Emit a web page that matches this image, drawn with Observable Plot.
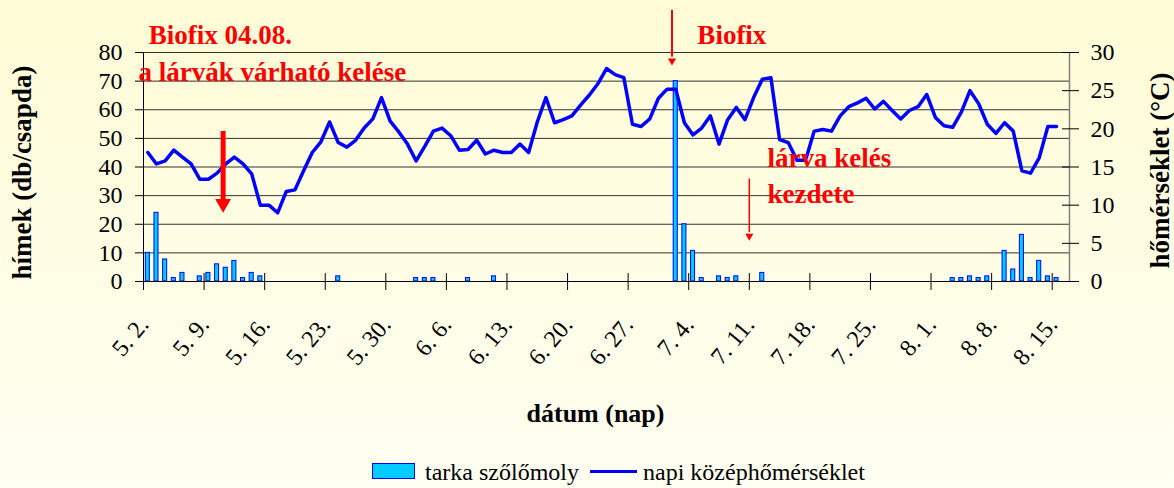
<!DOCTYPE html>
<html><head><meta charset="utf-8">
<script src="https://cdn.jsdelivr.net/npm/d3@7"></script>
<script src="https://cdn.jsdelivr.net/npm/@observablehq/plot@0.6"></script>
<style>
html,body{margin:0;padding:0;}
body{width:1174px;height:488px;overflow:hidden;background:linear-gradient(#FFFCD6,#FFFFF2);font-family:'Liberation Serif',serif;}
#chart svg{display:block;}
#legend{position:relative;width:1174px;height:43px;}
#legend .sw{position:absolute;left:372px;top:18px;width:41px;height:14px;background:#00CCFF;border:1px solid #0000FF;}
#legend .ln{position:absolute;left:590px;top:25px;width:47px;height:3px;background:#0000FF;}
#legend .tx{position:absolute;top:15px;font-family:'Liberation Serif',serif;font-size:24px;line-height:24px;color:#000;white-space:nowrap;}
</style></head>
<body>
<div id="chart"></div>
<div id="legend"><div class="sw"></div><span class="tx" style="left:425px">tarka szőlőmoly</span><div class="ln"></div><span class="tx" style="left:643px">napi középhőmérséklet</span></div>
<script>
// daily mean temperature (°C), one value per day from 5.2. to 8.15.
const tempC = [
16.9,15.4,15.8,17.2,16.3,15.4,13.4,13.4,14.2,15.4,
16.3,15.4,14.1,10.0,10.0,9.0,11.8,12.0,14.5,16.9,
18.3,20.9,18.2,17.6,18.5,20.1,21.3,24.1,21.0,19.6,
18.0,15.8,17.7,19.7,20.1,19.1,17.2,17.3,18.5,16.7,
17.2,16.9,16.9,18.0,16.9,20.9,24.1,20.8,21.2,21.7,
23.1,24.4,25.9,27.9,27.1,26.7,20.6,20.3,21.3,24.0,
25.2,25.2,20.8,19.2,20.1,21.7,18.0,21.2,22.8,21.2,
24.1,26.5,26.7,18.6,18.2,15.9,15.9,19.7,19.9,19.7,
21.7,22.9,23.4,24.0,22.6,23.6,22.4,21.3,22.4,22.9,
24.5,21.5,20.4,20.2,22.2,25.0,23.3,20.6,19.4,20.8,
19.7,14.5,14.2,16.2,20.3,20.3
];
// trap catches (males / trap): day index (0 = 5.2.) and count
const trapDay = [0,1,2,3,4,6,7,8,9,10,11,12,13,22,31,32,33,37,40,61,62,63,64,66,67,68,71,93,94,95,96,97,99,100,101,102,103,104,105];
const trapCount = [10,24,7.7,1.2,3,1.8,3,6,4.8,7.2,1.2,3,1.8,1.8,1.2,1.2,1.2,1.2,1.8,70,20,10.7,1.2,1.8,1.2,1.8,3,1.2,1.2,1.8,1.2,1.8,10.7,4.2,16.3,1.2,7.2,1.8,1.2];
const dayCount = 107; // 5.2. .. 8.16.
const tickDays = [0,7,14,21,28,35,42,49,56,63,70,77,84,91,98,105];
const tickLabels = ["5. 2.","5. 9.","5. 16.","5. 23.","5. 30.","6. 6.","6. 13.","6. 20.","6. 27.","7. 4.","7. 11.","7. 18.","7. 25.","8. 1.","8. 8.","8. 15."];
const countTicks = [0,10,20,30,40,50,60,70,80];
const tempTicks = [0,5,10,15,20,25,30];
const countMax = 80, tempMax = 30;
const toY = c => c * countMax / tempMax;

// annotations in data coordinates (x: day index, y: count axis)
const notes = [
  {x: 0.6, y: 83.1, text: "Biofix 04.08."},
  {x: -0.58, y: 70, text: "a lárvák várható kelése"},
  {x: 64.0, y: 83.1, text: "Biofix"},
  {x: 72.1, y: 40, text: "lárva kelés"},
  {x: 72.1, y: 27.5, text: "kezdete"}
];
const arrows = [
  {x: 9.2, top: 52.4, end: 28.6, head: 27.2, w: 5, r: 5.9},
  {x: 61.07, top: 94.7, end: 78.4, head: 77.1, w: 2, r: 3.1},
  {x: 70.0, top: 35.8, end: 17.1, head: 15.9, w: 1.5, r: 3.0}
];

const traps = trapDay.map((d, k) => ({day: d, n: trapCount[k]}));
const red = "#FF0000";
const serif = "'Liberation Serif', serif";

const chart = Plot.plot({
  width: 1174, height: 445,
  marginLeft: 143, marginRight: 105, marginTop: 52, marginBottom: 164,
  style: {background: "transparent", fontFamily: serif, fontSize: "24px", color: "#000", overflow: "visible"},
  x: {type: "linear", domain: [0, dayCount]},
  y: {domain: [0, countMax]},
  marks: [
    Plot.gridY(countTicks, {stroke: "#000", strokeOpacity: 0.8, strokeWidth: 1}),
    Plot.ruleX([dayCount], {stroke: "#808080", strokeWidth: 1.5}),
    Plot.rectY(traps, {x1: "day", x2: d => d.day + 1, y: "n", insetLeft: 2.3, insetRight: 2.3, fill: "#00CCFF", stroke: "#0000FF", strokeWidth: 1}),
    Plot.ruleY([0], {stroke: "#000"}),
    Plot.ruleX([0], {stroke: "#000"}),
    Plot.line(tempC, {x: (d, i) => i + 0.5, y: d => toY(d), stroke: "#0000FF", strokeWidth: 3.5}),
    Plot.axisY(countTicks, {anchor: "left", tickSize: 8, tickPadding: 13, label: null, fontFamily: serif}),
    Plot.axisY(tempTicks.map(toY), {anchor: "right", tickSize: 17, dx: -8, tickFormat: () => "", label: null}),
    Plot.axisY(tempTicks.map(toY), {anchor: "right", tickSize: 0, tickPadding: 21, tickFormat: v => String(Math.round(v * tempMax / countMax)), label: null, fontFamily: serif}),
    Plot.axisX(tickDays, {anchor: "bottom", tickSize: 17, dy: -8, tickFormat: () => "", label: null}),
    Plot.text(tickDays, {x: d => d + 0.5, text: (d, i) => tickLabels[i], frameAnchor: "bottom", dx: 2, dy: 44, rotate: -50, textAnchor: "end", lineAnchor: "bottom", fontSize: 24, fontFamily: serif}),
    Plot.text(["hímek (db/csapda)"], {text: d => d, frameAnchor: "left", textAnchor: "middle", dx: -121, dy: 5.5, rotate: -90, fontWeight: "bold", fontSize: 27, fontFamily: serif}),
    Plot.text(["hőmérséklet (°C)"], {text: d => d, frameAnchor: "right", textAnchor: "middle", dx: 91, dy: 3.5, rotate: -90, fontWeight: "bold", fontSize: 27, fontFamily: serif}),
    Plot.text(["dátum (nap)"], {text: d => d, frameAnchor: "bottom", textAnchor: "middle", dx: -11, dy: 140, lineAnchor: "bottom", fontWeight: "bold", fontSize: 26, fontFamily: serif}),
    Plot.ruleX(arrows, {x: "x", y1: "top", y2: "end", stroke: red, strokeWidth: "w"}),
    ...arrows.map(a => Plot.dot([a], {x: "x", y: "head", r: a.r, symbol: "triangle", rotate: 180, fill: red, stroke: null})),
    Plot.text(notes, {x: "x", y: "y", text: "text", textAnchor: "start", lineAnchor: "bottom", fill: red, fontWeight: "bold", fontSize: 27, fontFamily: serif})
  ]
});
document.getElementById("chart").appendChild(chart);
</script>
</body></html>
